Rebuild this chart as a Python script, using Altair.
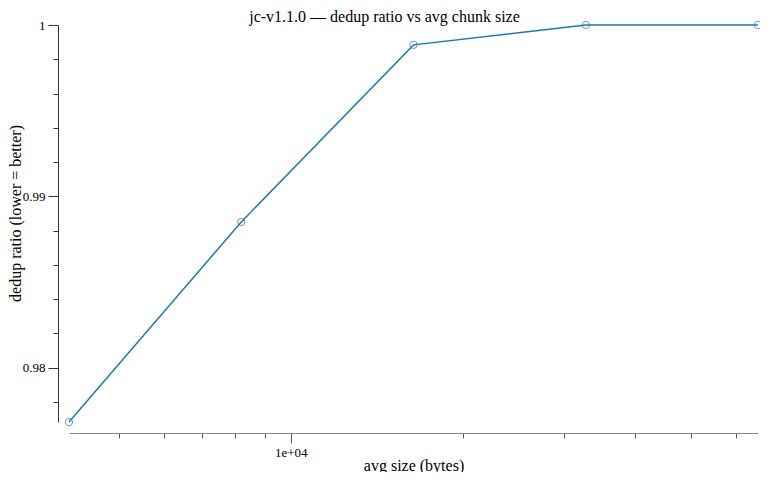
import altair as alt
import pandas as pd

# avg chunk size (bytes) vs dedup ratio
avg_size = [4096, 8192, 16384, 32768, 65536]
dedup_ratio = [0.97682, 0.98850, 0.99884, 1.0, 1.0]

x_ticks = [5000, 6000, 7000, 8000, 9000, 10000, 20000, 30000, 40000, 50000, 60000]
y_ticks = [0.978, 0.98, 0.982, 0.984, 0.986, 0.988, 0.99, 0.992, 0.994, 0.996, 0.998, 1.0]

df = pd.DataFrame({"size": avg_size, "ratio": dedup_ratio})

font = "Liberation Serif"
color = "#1f77b4"
y_major = "abs(datum.value * 100 - round(datum.value * 100)) < 0.000001"

x_enc = alt.X(
    "size:Q",
    title="avg size (bytes)",
    scale=alt.Scale(type="log", domain=[4096, 65536], nice=False),
    axis=alt.Axis(
        values=x_ticks,
        tickCount=30,
        labelExpr="datum.value == 10000 ? '1e+04' : ''",
        tickSize={"condition": {"test": "datum.value == 10000", "value": 10}, "value": 5},
        offset=11,
        grid=False,
        labelFlush=False,
        labelOverlap=False,
        domainColor="#888",
        tickColor="#555",
        titlePadding=-2,
    ),
)
y_enc = alt.Y(
    "ratio:Q",
    title="dedup ratio (lower = better)",
    scale=alt.Scale(domain=[0.97682, 1.0], nice=False, zero=False),
    axis=alt.Axis(
        values=y_ticks,
        tickCount=30,
        labelExpr=y_major + " ? format(datum.value, '~g') : ''",
        tickSize={"condition": {"test": y_major, "value": 10}, "value": 5},
        offset=11,
        grid=False,
        labelOverlap=False,
        labelFlush=False,
        domainColor="#333",
        tickColor="#333",
        titlePadding=-1,
        titleY=188,
    ),
)

line = alt.Chart(df).mark_line(color=color, strokeWidth=1.5).encode(x=x_enc, y=y_enc)
points = alt.Chart(df).mark_point(shape="circle", filled=False, color=color, size=55, strokeWidth=1).encode(
    x="size:Q", y="ratio:Q"
)

chart = (
    (line + points)
    .properties(
        width=689,
        height=397,
        autosize=alt.AutoSizeParams(type="none"),
        padding={"left": 61, "top": 17, "right": 2, "bottom": 50},
        title=alt.TitleParams(
            "jc-v1.1.0 — dedup ratio vs avg chunk size",
            anchor="middle",
            dx=-29,
            dy=12,
            offset=6,
            font=font,
            fontSize=16,
            fontWeight="normal",
            color="#000",
        ),
    )
    .configure_view(stroke=None)
    .configure_axis(
        labelFont=font,
        labelFontSize=13,
        labelColor="#000",
        titleFont=font,
        titleFontSize=16,
        titleFontWeight="normal",
        titleColor="#000",
        labelPadding=3,
    )
)

chart.save("out.html", embed_options={"renderer": "svg", "actions": False})
